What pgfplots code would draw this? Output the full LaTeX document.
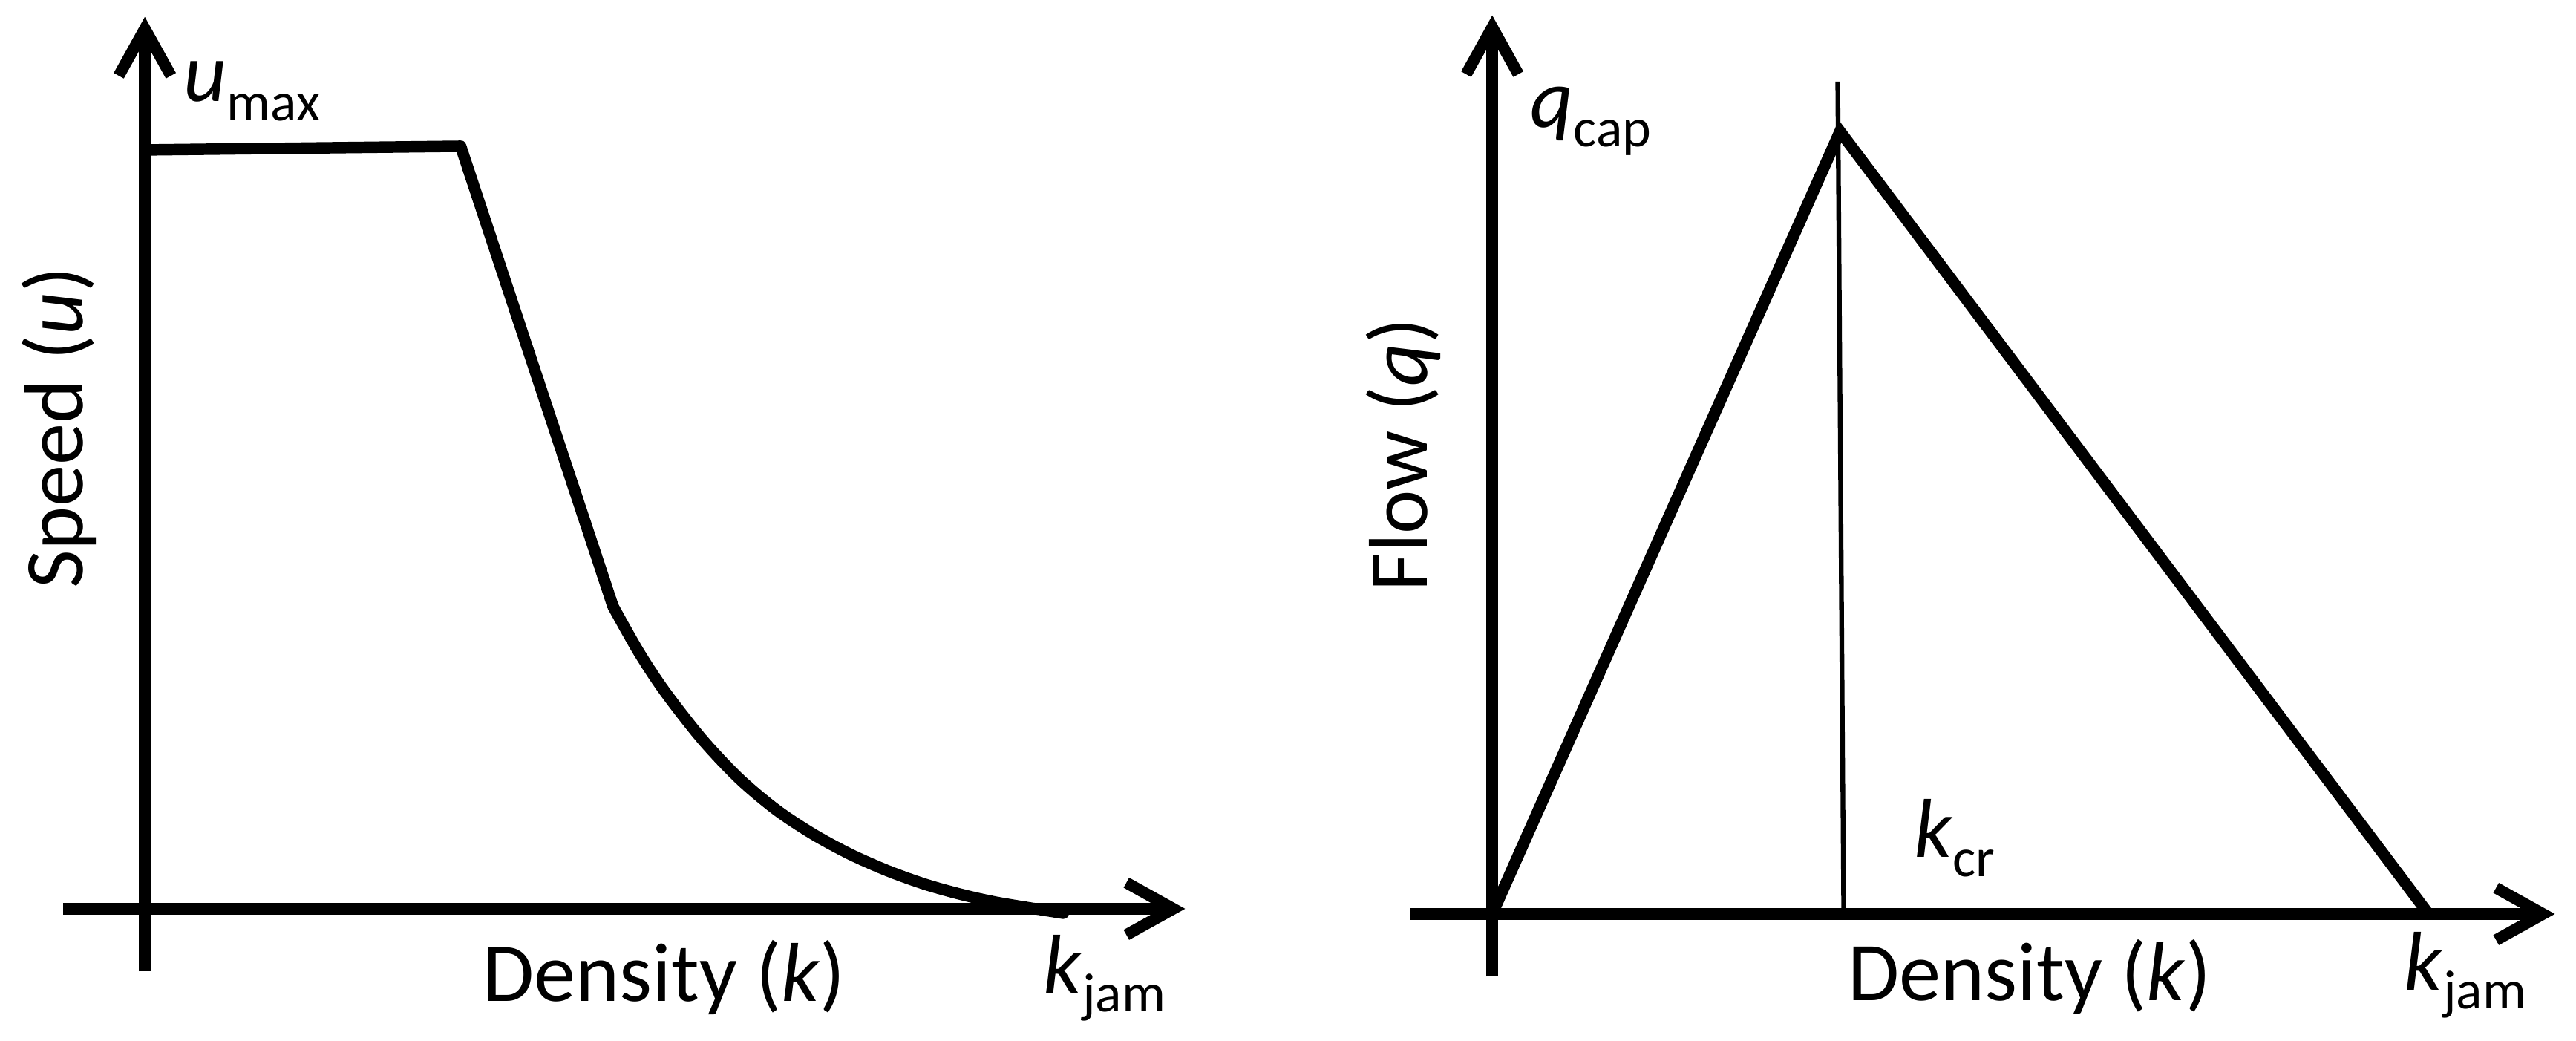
\documentclass[border=0pt]{standalone}
\usepackage{fontspec}
\setmainfont{Carlito}
\usepackage{pgfplots}
\pgfplotsset{compat=1.18}
\usetikzlibrary{arrows.meta}

\newcommand{\lbl}{\fontsize{16}{19}\selectfont}
\newcommand{\sub}[1]{\raisebox{-3.6pt}{\fontsize{10.5}{12}\selectfont #1}}

\tikzset{lab/.style={font=\lbl, inner sep=0pt}}
\pgfplotsset{
  diagram/.style={
    x=0.005cm, y=0.005cm,
    axis lines=middle,
    xtick=\empty, ytick=\empty,
    clip=false,
    anchor=south west,
    axis line style={line width=2.2pt, -{Straight Barb[length=9pt,width=10pt]}},
  },
}

\begin{document}
\begin{tikzpicture}
\path (0,0) rectangle (17.35cm,7.005cm);

% speed-density
\begin{axis}[diagram, at={(0.425cm,0.465cm)},
    xmin=-110, xmax=1400, ymin=-84, ymax=1200]
\addplot[black, line width=2.2pt, line join=round] coordinates {
    (0,1021) (425,1026) (630,407)
};
\addplot[black, line width=2.2pt, smooth, line cap=round] coordinates {
    (630,407) (665,345) (700,292) (750,228) (800,175) (850,133)
    (900,100) (950,73) (1000,51) (1050,33) (1100,19) (1150,8) (1236,-6)
};
\node[lab, anchor=base west] at (axis cs:51,1086) {\textit{u}\sub{max}};
\node[lab, rotate=90, anchor=base] at (axis cs:-84,647) {Speed (\textit{u})};
\node[lab, anchor=base] at (axis cs:699,-124) {Density (\textit{k})};
\node[lab, anchor=base west] at (axis cs:1208,-113) {\textit{k}\sub{jam}};
\end{axis}

% flow-density
\begin{axis}[diagram, at={(9.5cm,0.43cm)},
    xmin=-110, xmax=1430, ymin=-84, ymax=1209]
\addplot[black, line width=2.2pt] coordinates {
    (0,0) (468,1053) (1260,0)
};
\addplot[black, line width=0.9pt] coordinates {(465,1120) (473,0)};
\node[lab, anchor=base west] at (axis cs:50,1058) {\textit{q}\sub{cap}};
\node[lab, rotate=90, anchor=base] at (axis cs:-88,618) {Flow (\textit{q})};
\node[lab, anchor=base west] at (axis cs:566,76) {\textit{k}\sub{cr}};
\node[lab, anchor=base] at (axis cs:723,-116) {Density (\textit{k})};
\node[lab, anchor=base west] at (axis cs:1226,-102) {\textit{k}\sub{jam}};
\end{axis}
\end{tikzpicture}
\end{document}
